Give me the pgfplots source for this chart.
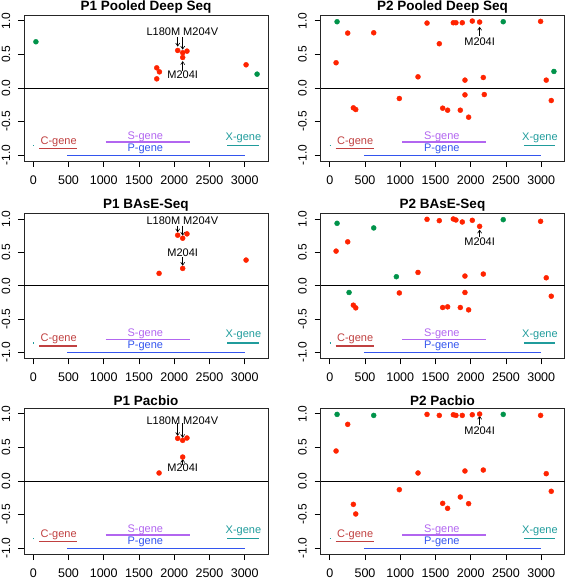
\documentclass[border=0pt]{standalone}
\usepackage{pgfplots}
\pgfplotsset{compat=1.18}
\usepackage{fontspec}
\setmainfont{Liberation Sans}
\usetikzlibrary{arrows.meta}
\definecolor{ptred}{RGB}{255,35,0}
\definecolor{ptgreen}{RGB}{0,147,74}
\definecolor{cgene}{RGB}{192,64,64}
\definecolor{sgene}{RGB}{178,102,240}
\definecolor{pgene}{RGB}{51,85,238}
\definecolor{xgene}{RGB}{32,156,156}
\tikzset{ann/.style={font=\fontsize{11}{12}\selectfont, black},
  arr/.style={-{Straight Barb[length=3pt,width=4pt]}, line width=0.6pt}}
\pgfplotsset{
  panel/.style={
    scale only axis, width=244pt, height=146pt,
    xmin=-131, xmax=3330, ymin=-1.085, ymax=1.085,
    xtick={0,500,1000,1500,2000,2500,3000},
    xticklabels={0,500,1000,1500,2000,2500,3000},
    ytick={-1,-0.5,0,0.5,1},
    yticklabels={-1.0,-0.5,0.0,0.5,1.0},
    tick align=outside, xtick pos=left, ytick pos=left,
    major tick length=6pt,
    tick style={black, line width=0.8pt},
    axis line style={line width=0.8pt, black!85},
    xticklabel style={font=\fontsize{12.5}{13}\selectfont, yshift=-5pt},
    yticklabel style={font=\fontsize{12}{13}\selectfont, rotate=90, anchor=south, inner ysep=7.5pt},
    title style={font=\bfseries\fontsize{13.5}{14}\selectfont, at={(0.5,1)}, anchor=center, yshift=1.7pt},
    clip=false,
  },
  red pts/.style={only marks, mark=*, mark size=2.5pt, ptred, mark options={draw=ptred, fill=ptred}},
  green pts/.style={only marks, mark=*, mark size=2.5pt, ptgreen, mark options={draw=ptgreen, fill=ptgreen}},
}
\newcommand\genes{%
  \addplot[black, line width=0.8pt] coordinates {(-131,0) (3330,0)};
  \addplot[cgene, line width=1.5pt] coordinates {(85,-0.9) (626,-0.9)};
  \addplot[sgene, line width=1.5pt] coordinates {(1027,-0.805) (2223,-0.805)};
  \addplot[pgene, line width=1.5pt] coordinates {(485,-1.0) (3000,-1.0)};
  \addplot[xgene, line width=1.5pt] coordinates {(2755,-0.855) (3198,-0.855)};
  \addplot[xgene, line width=1.5pt] coordinates {(0,-0.855) (15,-0.855)};
  \node[ann, text=cgene] at (axis cs:360,-0.80) {C-gene};
  \node[ann, text=sgene] at (axis cs:1590,-0.725) {S-gene};
  \node[ann, text=pgene] at (axis cs:1590,-0.90) {P-gene};
  \node[ann, text=xgene] at (axis cs:2982,-0.74) {X-gene};
}
\begin{document}
\begin{tikzpicture}
\useasboundingbox (0,0) rectangle (567pt,581pt);
% ---------------- Row 1 ----------------
\begin{axis}[panel, at={(24pt,420pt)}, anchor=south west, title={P1 Pooled Deep Seq}]
\genes
\addplot[red pts] coordinates {(1752,0.30) (1790,0.24) (1752,0.136) (2049,0.558) (2120,0.524) (2181,0.548) (2120,0.454) (3019,0.345)};
\addplot[green pts] coordinates {(38,0.687) (3175,0.206)};
\node[ann] at (axis cs:2115,0.836) {L180M M204V};
\draw[arr] (axis cs:2049,0.752) -- (axis cs:2049,0.615);
\draw[arr] (axis cs:2120,0.752) -- (axis cs:2120,0.57);
\draw[arr] (axis cs:2120,0.26) -- (axis cs:2120,0.40);
\node[ann] at (axis cs:2120,0.20) {M204I};
\end{axis}
\begin{axis}[panel, at={(320.5pt,420pt)}, anchor=south west, title={P2 Pooled Deep Seq}]
\genes
\addplot[red pts] coordinates {(90,0.375) (255,0.816) (624,0.821) (335,-0.295) (369,-0.32) (987,-0.156) (1252,0.166) (1380,0.965) (1554,0.658) (1602,-0.30) (1672,-0.33) (1753,0.97) (1790,0.97) (1880,0.97) (1918,0.117) (1918,-0.102) (1852,-0.33) (1970,-0.434) (2022,0.995) (2126,0.98) (2178,0.156) (2192,-0.097) (2991,0.99) (3071,0.117) (3142,-0.186)};
\addplot[green pts] coordinates {(104,0.985) (2461,0.985) (3180,0.246)};
\draw[arr] (axis cs:2126,0.777) -- (axis cs:2126,0.91);
\node[ann] at (axis cs:2126,0.687) {M204I};
\end{axis}
% ---------------- Row 2 ----------------
\begin{axis}[panel, at={(24pt,222.7pt)}, anchor=south west, height=145pt, title={P1 BAsE-Seq}]
\genes
\addplot[red pts] coordinates {(2049,0.757) (2120,0.712) (2181,0.777) (2120,0.26) (1785,0.186) (3019,0.385)};
\node[ann] at (axis cs:2115,0.975) {L180M M204V};
\draw[arr] (axis cs:2049,0.90) -- (axis cs:2049,0.80);
\draw[arr] (axis cs:2120,0.90) -- (axis cs:2120,0.75);
\node[ann] at (axis cs:2120,0.494) {M204I};
\draw[arr] (axis cs:2120,0.43) -- (axis cs:2120,0.30);
\end{axis}
\begin{axis}[panel, at={(320.5pt,222.7pt)}, anchor=south west, height=145pt, title={P2 BAsE-Seq}]
\genes
\addplot[red pts] coordinates {(90,0.519) (255,0.658) (335,-0.29) (369,-0.33) (987,-0.107) (1252,0.20) (1380,0.995) (1554,0.975) (1602,-0.325) (1672,-0.315) (1753,1.0) (1790,0.985) (1880,0.955) (1918,0.146) (1918,-0.10) (1852,-0.325) (1970,-0.36) (2022,0.98) (2126,0.89) (2178,0.176) (2991,0.965) (3071,0.12) (3142,-0.156)};
\addplot[green pts] coordinates {(104,0.935) (624,0.866) (274,-0.10) (945,0.136) (2461,0.99)};
\draw[arr] (axis cs:2126,0.727) -- (axis cs:2126,0.84);
\node[ann] at (axis cs:2126,0.655) {M204I};
\end{axis}
% ---------------- Row 3 ----------------
\begin{axis}[panel, at={(24pt,27pt)}, anchor=south west, height=146pt, title={P1 Pacbio}]
\genes
\addplot[red pts] coordinates {(2049,0.634) (2120,0.604) (2181,0.639) (2120,0.356) (1785,0.119)};
\node[ann] at (axis cs:2115,0.90) {L180M M204V};
\draw[arr] (axis cs:2049,0.86) -- (axis cs:2049,0.67);
\draw[arr] (axis cs:2120,0.86) -- (axis cs:2120,0.64);
\draw[arr] (axis cs:2120,0.243) -- (axis cs:2120,0.327);
\node[ann] at (axis cs:2120,0.193) {M204I};
\end{axis}
\begin{axis}[panel, at={(320.5pt,27pt)}, anchor=south west, height=146pt, title={P2 Pacbio}]
\genes
\addplot[red pts] coordinates {(90,0.446) (255,0.842) (335,-0.347) (369,-0.49) (987,-0.129) (1252,0.119) (1380,0.99) (1554,0.975) (1602,-0.332) (1672,-0.406) (1753,0.985) (1790,0.975) (1880,0.975) (1918,0.149) (1852,-0.238) (1970,-0.337) (2022,0.985) (2126,0.995) (2178,0.163) (2991,0.975) (3071,0.109) (3142,-0.153)};
\addplot[green pts] coordinates {(104,0.99) (624,0.975) (2461,0.99)};
\draw[arr] (axis cs:2126,0.837) -- (axis cs:2126,0.97);
\node[ann] at (axis cs:2126,0.75) {M204I};
\end{axis}
\end{tikzpicture}
\end{document}
